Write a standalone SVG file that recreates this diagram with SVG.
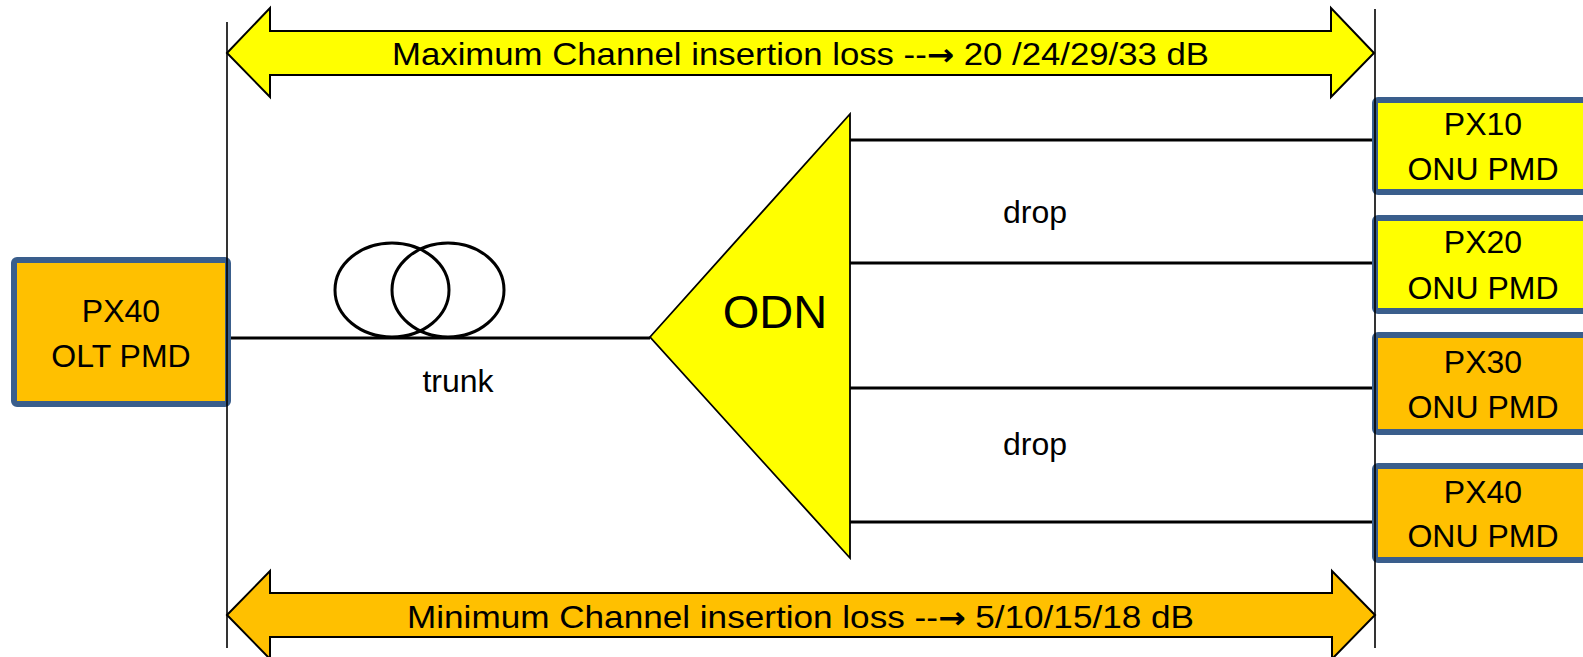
<svg xmlns="http://www.w3.org/2000/svg" width="1583" height="657" viewBox="0 0 1583 657">
<style>
.box{stroke:#3A5E8C;stroke-width:6;}
.yel{fill:#FFFF00;}
.org{fill:#FFC000;}
.txt{font-family:"Liberation Sans",Arial,sans-serif;fill:#000;}
.bt{font-size:32px;text-anchor:middle;}
.ar{font-family:"DejaVu Sans",sans-serif;font-weight:bold;font-size:30px;}
.wire{stroke:#000;stroke-width:3;fill:none;}
.dim{stroke:#000;stroke-width:1.6;fill:none;}
.arr{stroke:#000;stroke-width:2;stroke-linejoin:miter;}
</style>
<rect width="1583" height="657" fill="#fff"/>

<g id="connectors">
  <line class="wire" x1="231" y1="338" x2="650" y2="338"/>
  <ellipse class="wire" cx="392" cy="290" rx="57" ry="47"/>
  <ellipse class="wire" cx="448" cy="290" rx="56" ry="47"/>
  <line class="wire" x1="850" y1="140" x2="1372" y2="140"/>
  <line class="wire" x1="850" y1="263" x2="1372" y2="263"/>
  <line class="wire" x1="850" y1="388" x2="1372" y2="388"/>
  <line class="wire" x1="850" y1="522" x2="1372" y2="522"/>
</g>

<g id="max-arrow">
  <path class="arr yel" d="M227,53 L270,8 L270,31 L1331,31 L1331,8 L1374,53 L1331,97 L1331,75 L270,75 L270,97 Z"/>
  <text class="txt" x="392" y="65" font-size="32" textLength="817" lengthAdjust="spacingAndGlyphs">Maximum Channel insertion loss --<tspan class="ar">→</tspan> 20 /24/29/33 dB</text>
</g>

<g id="min-arrow">
  <path class="arr org" d="M227,615 L270,571 L270,593 L1332,593 L1332,571 L1375,615 L1332,659 L1332,637 L270,637 L270,659 Z"/>
  <text class="txt" x="407" y="628" font-size="32" textLength="787" lengthAdjust="spacingAndGlyphs">Minimum Channel insertion loss --<tspan class="ar">→</tspan> 5/10/15/18 dB</text>
</g>

<g id="olt">
  <rect class="box org" x="14" y="260" width="214" height="144" rx="3"/>
  <text class="txt bt" x="121" y="322">PX40</text>
  <text class="txt bt" x="121" y="367">OLT PMD</text>
</g>

<g id="trunk-label">
  <text class="txt" x="458" y="392" font-size="32" text-anchor="middle">trunk</text>
</g>

<g id="odn">
  <path d="M650,337 L850,114 L850,558 Z" fill="#FFFF00" stroke="#000" stroke-width="1.8" stroke-linejoin="miter"/>
  <text class="txt" x="775" y="328" font-size="47" text-anchor="middle">ODN</text>
</g>

<g id="drop-labels">
  <text class="txt" x="1035" y="223" font-size="32" text-anchor="middle">drop</text>
  <text class="txt" x="1035" y="455" font-size="32" text-anchor="middle">drop</text>
</g>

<g id="onu-px10">
  <rect class="box yel" x="1375" y="100" width="215" height="92" rx="3"/>
  <text class="txt bt" x="1483" y="135">PX10</text>
  <text class="txt bt" x="1483" y="180">ONU PMD</text>
</g>
<g id="onu-px20">
  <rect class="box yel" x="1375" y="218" width="215" height="93" rx="3"/>
  <text class="txt bt" x="1483" y="253">PX20</text>
  <text class="txt bt" x="1483" y="299">ONU PMD</text>
</g>
<g id="onu-px30">
  <rect class="box org" x="1375" y="335" width="215" height="97" rx="3"/>
  <text class="txt bt" x="1483" y="373">PX30</text>
  <text class="txt bt" x="1483" y="418">ONU PMD</text>
</g>
<g id="onu-px40">
  <rect class="box org" x="1375" y="466" width="215" height="94" rx="3"/>
  <text class="txt bt" x="1483" y="503">PX40</text>
  <text class="txt bt" x="1483" y="547">ONU PMD</text>
</g>

<g id="dimension-lines">
  <line class="dim" x1="227" y1="22" x2="227" y2="648"/>
  <line class="dim" x1="1375" y1="9" x2="1375" y2="648"/>
</g>
</svg>
